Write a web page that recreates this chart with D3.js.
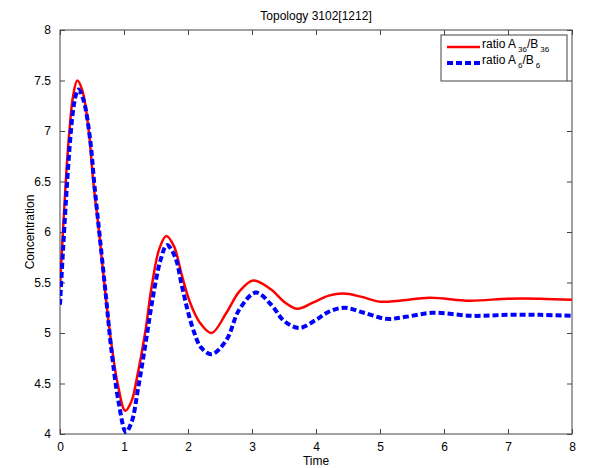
<!DOCTYPE html>
<html><head><meta charset="utf-8">
<script src="https://d3js.org/d3.v7.min.js"></script>
<style>body{margin:0;background:#fff}svg{display:block}text{font-family:"Liberation Sans",Arial,sans-serif}</style>
</head><body><svg id="c" width="589" height="468"></svg>
<script>
const title = "Topology 3102[1212]";
const xLabel = "Time";
const yLabel = "Concentration";
const xTicks = [0,1,2,3,4,5,6,7,8];
const yTicks = [4,4.5,5,5.5,6,6.5,7,7.5,8];

const redT = [0,0.05,0.10,0.15,0.20,0.27,0.35,0.45,0.52,0.61,0.70,0.78,0.90,1.02,1.12,1.20,1.33,1.43,1.55,1.66,1.78,1.90,2.00,2.10,2.20,2.37,2.60,2.80,3.02,3.30,3.50,3.71,3.95,4.20,4.43,4.70,5.00,5.30,5.78,6.40,7.00,7.50,8.00];
const redV = [5.45,6.05,6.60,7.02,7.33,7.50,7.40,7.00,6.50,6.00,5.45,5.00,4.50,4.23,4.33,4.55,5.00,5.45,5.83,5.96,5.86,5.58,5.36,5.20,5.09,5.00,5.20,5.41,5.52,5.43,5.31,5.24,5.30,5.37,5.39,5.36,5.31,5.32,5.35,5.32,5.34,5.34,5.33];

const blueT = [0,0.05,0.10,0.15,0.20,0.25,0.29,0.37,0.47,0.54,0.63,0.72,0.80,0.92,1.03,1.12,1.22,1.35,1.45,1.57,1.67,1.80,1.90,2.00,2.10,2.20,2.37,2.60,2.80,3.06,3.30,3.50,3.74,4.00,4.20,4.44,4.75,5.10,5.40,5.83,6.45,7.00,7.50,8.00];
const blueV = [5.28,5.85,6.38,6.84,7.18,7.36,7.41,7.30,6.92,6.45,5.90,5.35,4.85,4.30,4.02,4.12,4.45,4.95,5.35,5.72,5.87,5.75,5.48,5.21,5.00,4.86,4.79,4.93,5.23,5.40,5.28,5.12,5.05,5.13,5.21,5.25,5.20,5.14,5.16,5.20,5.17,5.18,5.18,5.17];

const L=60,R=572,T=30,B=434;
const svg = d3.select("#c");
const x = d3.scaleLinear().domain([0,8]).range([L,R]);
const y = d3.scaleLinear().domain([4,8]).range([B,T]);

svg.append("rect").attr("x",L).attr("y",T).attr("width",R-L).attr("height",B-T)
  .attr("fill","#fff").attr("stroke","#444").attr("stroke-width",1);

const ax = (g)=>{g.select(".domain").remove(); g.selectAll("line").attr("stroke","#444");
  g.selectAll("text").attr("font-size",12).attr("fill","#000");};
svg.append("g").attr("transform",`translate(0,${B})`)
  .call(d3.axisBottom(x).tickValues(xTicks).tickSizeInner(-5).tickSizeOuter(0).tickPadding(8).tickFormat(d3.format("d"))).call(ax);
svg.append("g").attr("transform",`translate(0,${T})`)
  .call(d3.axisTop(x).tickValues(xTicks).tickSizeInner(-5).tickSizeOuter(0).tickFormat("")).call(ax);
svg.append("g").attr("transform",`translate(${L},0)`)
  .call(d3.axisLeft(y).tickValues(yTicks).tickSizeInner(-5).tickSizeOuter(0).tickPadding(9).tickFormat(d=>String(d))).call(ax);
svg.append("g").attr("transform",`translate(${R},0)`)
  .call(d3.axisRight(y).tickValues(yTicks).tickSizeInner(-5).tickSizeOuter(0).tickFormat("")).call(ax);

svg.append("clipPath").attr("id","pc").append("rect").attr("x",L).attr("y",T-3).attr("width",R-L).attr("height",B-T+3);
const line = d3.line().x(d=>x(d[0])).y(d=>y(d[1])).curve(d3.curveCatmullRom.alpha(0.5));
const redData = redT.map((t,i)=>[t,redV[i]]);
const blueData = blueT.map((t,i)=>[t,blueV[i]]);
const pg = svg.append("g").attr("clip-path","url(#pc)");
pg.append("path").datum(redData).attr("d",line).attr("fill","none").attr("stroke","#ff0000").attr("stroke-width",2.5);
pg.append("path").datum(blueData).attr("d",line).attr("fill","none").attr("stroke","#0000ff").attr("stroke-width",4).attr("stroke-dasharray","6,3");

svg.append("text").attr("x",(L+R)/2).attr("y",20).attr("text-anchor","middle").attr("font-size",12).text(title);
svg.append("text").attr("x",(L+R)/2).attr("y",465).attr("text-anchor","middle").attr("font-size",12).text(xLabel);
svg.append("text").attr("transform",`translate(34,${(T+B)/2}) rotate(-90)`).attr("text-anchor","middle").attr("font-size",12).text(yLabel);

const lg = svg.append("g");
lg.append("rect").attr("x",441).attr("y",35).attr("width",126).attr("height",46).attr("fill","#fff").attr("stroke","#444");
const entries = [{c:"#ff0000",w:2.5,d:null,s:"36"},{c:"#0000ff",w:4,d:"6,3",s:"6"}];
entries.forEach((e,i)=>{
  const yy = 47 + i*16;
  const l = lg.append("line").attr("x1",447).attr("x2",480).attr("y1",yy).attr("y2",yy).attr("stroke",e.c).attr("stroke-width",e.w);
  if(e.d) l.attr("stroke-dasharray",e.d);
  const t = lg.append("text").attr("x",482).attr("y",yy+1).attr("font-size",12);
  t.append("tspan").text("ratio A");
  t.append("tspan").attr("font-size",8).attr("dx",2).attr("dy",4).text(e.s);
  t.append("tspan").attr("dy",-4).text("/B");
  t.append("tspan").attr("font-size",8).attr("dx",2).attr("dy",4).text(e.s);
});
</script></body></html>
